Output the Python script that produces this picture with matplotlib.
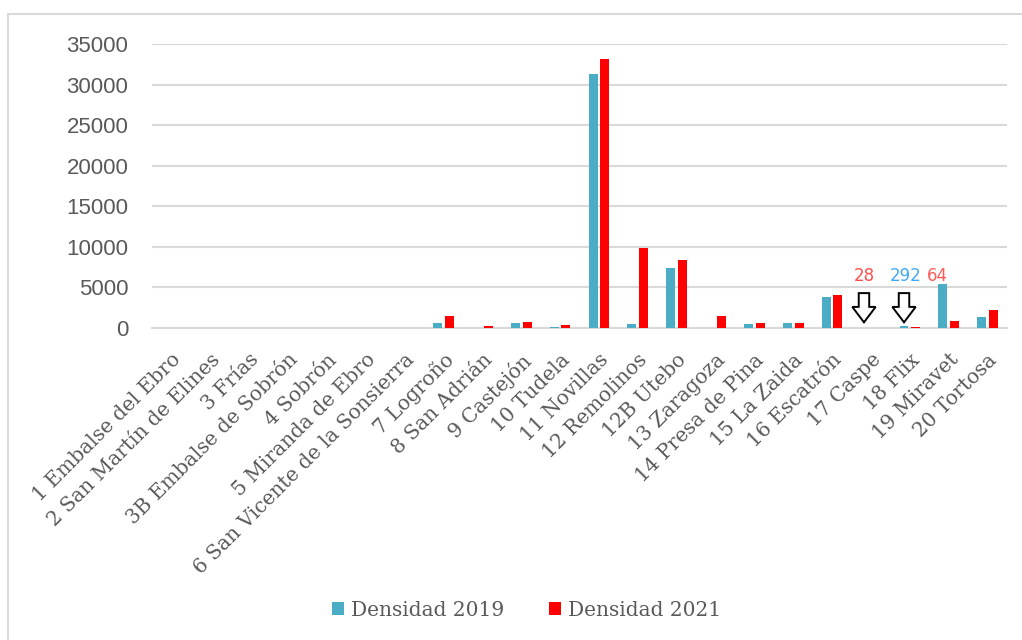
import matplotlib
matplotlib.use("Agg")
import matplotlib.pyplot as plt
from matplotlib.patches import FancyArrow, Rectangle
import numpy as np

categories = ["1 Embalse del Ebro", "2 San Martín de Elines", "3 Frías",
              "3B Embalse de Sobrón", "4 Sobrón", "5 Miranda de Ebro",
              "6 San Vicente de la Sonsierra", "7 Logroño", "8 San Adrián",
              "9 Castejón", "10 Tudela", "11 Novillas", "12 Remolinos",
              "12B Utebo", "13 Zaragoza", "14 Presa de Pina", "15 La Zaida",
              "16 Escatrón", "17 Caspe", "18 Flix", "19 Miravet", "20 Tortosa"]
dens_2019 = [0, 0, 0, 0, 0, 0, 0, 600, 0, 600, 100, 31300, 500, 7400, 0, 500,
             600, 3850, 0, 292, 5400, 1300]
dens_2021 = [0, 0, 0, 0, 0, 0, 0, 1450, 300, 700, 400, 33100, 9850, 8400, 1450,
             600, 600, 4100, 28, 64, 900, 2200]
yticks = [0, 5000, 10000, 15000, 20000, 25000, 30000, 35000]

c2019 = "#4BACC6"
c2021 = "#FF0000"
gray = "#595959"

fig = plt.figure(figsize=(10.22, 6.4), dpi=100)
fig.patches.append(Rectangle((8/1022, -0.05), 1.2, (640-14)/640 + 0.05,
                             transform=fig.transFigure, fill=False,
                             edgecolor="#d9d9d9", lw=1.5, zorder=0))
ax = fig.add_axes([152/1022, (640-328)/640, (1007-152)/1022, (328-44)/640])

x = np.arange(len(categories))
w = 0.23
ax.bar(x - 0.15, dens_2019, width=w, color=c2019, label="Densidad 2019", zorder=3)
ax.bar(x + 0.15, dens_2021, width=w, color=c2021, label="Densidad 2021", zorder=3)

ax.set_xlim(-0.5, len(categories) - 0.5)
ax.set_ylim(0, 35000)
ax.set_yticks(yticks)
ax.set_yticklabels([str(v) for v in yticks], fontsize=16, color=gray,
                   family="Liberation Sans")
ax.tick_params(axis="y", length=0, pad=17)
ax.grid(axis="y", color="#d9d9d9", lw=1.5, zorder=0)
for s in ["top", "right", "left"]:
    ax.spines[s].set_visible(False)
ax.spines["bottom"].set_color("#d9d9d9")
ax.spines["bottom"].set_linewidth(1.5)

ax.set_xticks(x)
ax.set_xticklabels(categories, rotation=45, ha="right", va="top",
                   rotation_mode="anchor", fontsize=14.5, color=gray,
                   family="DejaVu Serif")
ax.tick_params(axis="x", length=0, pad=16)

# annotations for small values
i_caspe = categories.index("17 Caspe")
i_flix = categories.index("18 Flix")
for xi in [i_caspe - 0.18, i_flix - 0.15]:
    ax.add_patch(FancyArrow(xi, 4300, 0, -3600, width=0.27, head_width=0.6,
                            head_length=1900, length_includes_head=True,
                            facecolor="white", edgecolor="black", lw=1.4,
                            zorder=5))
ax.text(i_caspe - 0.18, 5300, str(dens_2021[i_caspe]), color="#FF4D4D",
        fontsize=12, ha="center", va="bottom", family="DejaVu Sans")
ax.text(i_flix - 0.12, 5300, str(dens_2019[i_flix]), color="#3FA9F5",
        fontsize=12, ha="center", va="bottom", family="DejaVu Sans")
ax.text(i_flix + 0.7, 5300, str(dens_2021[i_flix]), color="#FF5A5A",
        fontsize=12, ha="center", va="bottom", family="DejaVu Sans")

leg = fig.legend(loc="center", bbox_to_anchor=(0.515, 1 - 610/640), ncol=2,
                 frameon=False, handlelength=0.6, handleheight=0.6,
                 handletextpad=0.35, columnspacing=2.2,
                 prop={"family": "DejaVu Serif", "size": 14.5})
for t in leg.get_texts():
    t.set_color(gray)

fig.savefig("out.png", dpi=100)
